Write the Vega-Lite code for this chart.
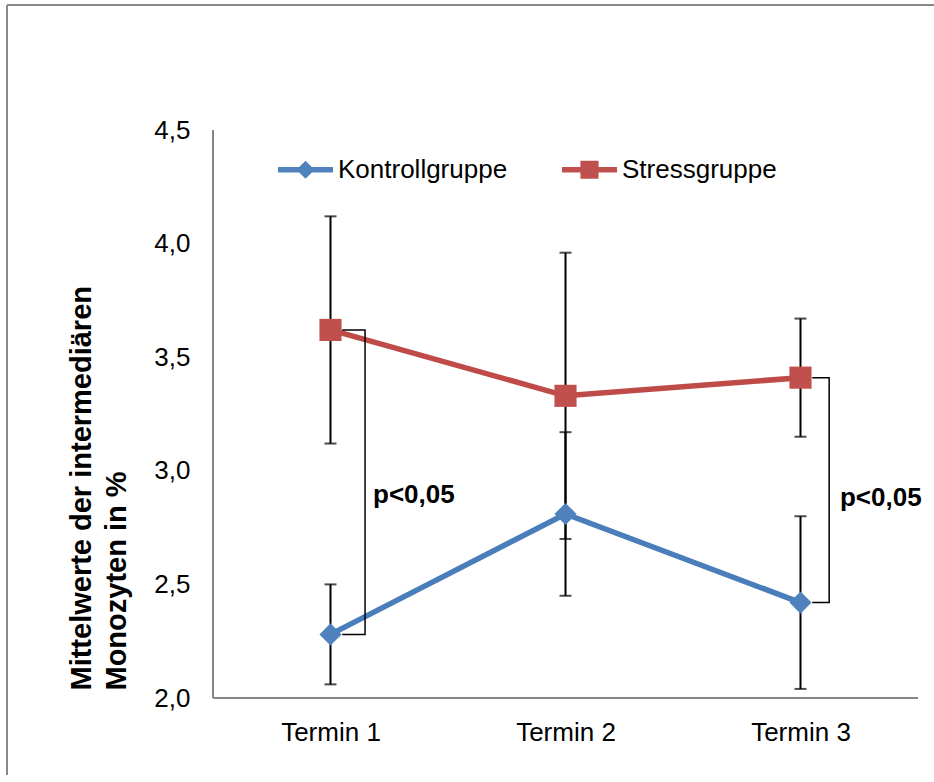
{
  "$schema": "https://vega.github.io/schema/vega-lite/v6.json",
  "width": 927,
  "height": 770,
  "autosize": {"type": "none"},
  "padding": {"left": 7, "top": 5, "right": 0, "bottom": 0},
  "background": "white",
  "config": {
    "view": {"stroke": null},
    "font": "Liberation Sans",
    "axis": {
      "grid": false,
      "ticks": false,
      "tickSize": 0,
      "domain": false,
      "labelFont": "Liberation Sans",
      "labelFontSize": 26,
      "labelColor": "#000000"
    }
  },
  "datasets": {
    "messwerte": [
      {"termin": 1, "gruppe": "Kontrollgruppe", "mittel": 2.28, "sd": 0.22},
      {"termin": 2, "gruppe": "Kontrollgruppe", "mittel": 2.81, "sd": 0.36},
      {"termin": 3, "gruppe": "Kontrollgruppe", "mittel": 2.42, "sd": 0.38},
      {"termin": 1, "gruppe": "Stressgruppe", "mittel": 3.62, "sd": 0.5},
      {"termin": 2, "gruppe": "Stressgruppe", "mittel": 3.33, "sd": 0.63},
      {"termin": 3, "gruppe": "Stressgruppe", "mittel": 3.41, "sd": 0.26}
    ],
    "klammern": [
      {"klammer": "Termin 1", "punkt": 1, "termin": 1.05, "mittel": 3.62},
      {"klammer": "Termin 1", "punkt": 2, "termin": 1.147, "mittel": 3.62},
      {"klammer": "Termin 1", "punkt": 3, "termin": 1.147, "mittel": 2.28},
      {"klammer": "Termin 1", "punkt": 4, "termin": 1.05, "mittel": 2.28},
      {"klammer": "Termin 3", "punkt": 1, "termin": 3.05, "mittel": 3.41},
      {"klammer": "Termin 3", "punkt": 2, "termin": 3.122, "mittel": 3.41},
      {"klammer": "Termin 3", "punkt": 3, "termin": 3.122, "mittel": 2.42},
      {"klammer": "Termin 3", "punkt": 4, "termin": 3.05, "mittel": 2.42}
    ],
    "signifikanz": [
      {"termin": 1.181, "mittel": 2.893, "text": "p<0,05"},
      {"termin": 3.168, "mittel": 2.88, "text": "p<0,05"}
    ]
  },
  "encoding": {
    "x": {
      "field": "termin",
      "type": "quantitative",
      "scale": {"domain": [-0.3766, 3.5681], "nice": false, "zero": false},
      "axis": {
        "values": [1, 2, 3],
        "labelExpr": "'Termin ' + datum.value",
        "offset": -77,
        "labelPadding": 21,
        "title": null
      }
    },
    "y": {
      "field": "mittel",
      "type": "quantitative",
      "scale": {"domain": [1.6611, 5.0502], "nice": false, "zero": false},
      "axis": {
        "values": [2, 2.5, 3, 3.5, 4, 4.5],
        "labelExpr": "replace(format(datum.value, '.1f'), '.', ',')",
        "offset": -206,
        "labelPadding": 23,
        "title": ["Mittelwerte der intermediären", "Monozyten in %"],
        "titleFont": "Liberation Sans",
        "titleFontSize": 29,
        "titleFontWeight": "bold",
        "titleColor": "#000000",
        "titleAngle": 270,
        "titleAlign": "left",
        "titleBaseline": "alphabetic",
        "titleLineHeight": 35,
        "titleX": -123,
        "titleY": 685
      }
    }
  },
  "layer": [
    {
      "data": {"name": "messwerte"},
      "mark": {"type": "rule", "color": "#898989", "strokeWidth": 2},
      "encoding": {
        "x": {"datum": -0.3766, "type": "quantitative"},
        "y": {"datum": 1.6611, "type": "quantitative"},
        "y2": {"datum": 5.0502}
      }
    },
    {
      "data": {"name": "messwerte"},
      "mark": {"type": "rule", "color": "#898989", "strokeWidth": 2},
      "encoding": {
        "x": {"datum": -0.3766, "type": "quantitative"},
        "x2": {"datum": 3.5681},
        "y": {"datum": 5.0502, "type": "quantitative"}
      }
    },
    {
      "data": {"name": "messwerte"},
      "mark": {"type": "rule", "color": "#868686", "strokeWidth": 2},
      "encoding": {
        "x": {"datum": 0.5, "type": "quantitative"},
        "y": {"datum": 2, "type": "quantitative"},
        "y2": {"datum": 4.5}
      }
    },
    {
      "data": {"name": "messwerte"},
      "mark": {"type": "rule", "color": "#868686", "strokeWidth": 2},
      "encoding": {
        "x": {"datum": 0.5, "type": "quantitative"},
        "x2": {"datum": 3.5},
        "y": {"datum": 2, "type": "quantitative"}
      }
    },
    {
      "data": {"name": "messwerte"},
      "mark": {"type": "errorbar", "ticks": {"thickness": 2}, "size": 12, "thickness": 2, "color": "#000000"},
      "encoding": {
        "yError": {"field": "sd"}
      }
    },
    {
      "data": {"name": "messwerte"},
      "mark": {"type": "line", "strokeWidth": 5.5, "strokeCap": "round"},
      "encoding": {
        "detail": {"field": "gruppe"},
        "color": {"condition": {"test": "datum.gruppe === 'Kontrollgruppe'", "value": "#4A7EBB"}, "value": "#BE4B48"}
      }
    },
    {
      "data": {"name": "messwerte"},
      "mark": {"type": "point", "filled": true, "opacity": 1, "size": 490, "strokeWidth": 0},
      "encoding": {
        "shape": {"condition": {"test": "datum.gruppe === 'Kontrollgruppe'", "value": "diamond"}, "value": "square"},
        "color": {
          "field": "gruppe",
          "type": "nominal",
          "scale": {"domain": ["Kontrollgruppe", "Stressgruppe"], "range": ["#4F81BD", "#C0504D"]},
          "legend": {
            "title": null,
            "orient": "none",
            "legendX": 271,
            "legendY": 137,
            "direction": "horizontal",
            "columns": 2,
            "columnPadding": 54,
            "padding": 0,
            "symbolSize": 3025,
            "symbolStrokeWidth": 0,
            "labelFont": "Liberation Sans",
            "labelFontSize": 26,
            "labelColor": "#000000",
            "labelOffset": 5,
            "labelLimit": 400,
            "encoding": {
              "symbols": {
                "shape": {
                  "condition": {
                    "test": "datum.value === 'Kontrollgruppe'",
                    "value": "M-1,-0.1H-0.23L0,-0.33L0.23,-0.1H1V0.1H0.23L0,0.33L-0.23,0.1H-1Z"
                  },
                  "value": "M-1,-0.1H-0.33V-0.33H0.33V-0.1H1V0.1H0.33V0.33H-0.33V0.1H-1Z"
                }
              }
            }
          }
        }
      }
    },
    {
      "data": {"name": "klammern"},
      "mark": {"type": "line", "color": "#000000", "strokeWidth": 1.5},
      "encoding": {
        "detail": {"field": "klammer"},
        "order": {"field": "punkt"}
      }
    },
    {
      "data": {"name": "signifikanz"},
      "mark": {"type": "text", "font": "Liberation Sans", "fontSize": 26, "fontWeight": "bold", "align": "left", "baseline": "middle", "color": "#000000"},
      "encoding": {
        "text": {"field": "text"}
      }
    }
  ]
}
